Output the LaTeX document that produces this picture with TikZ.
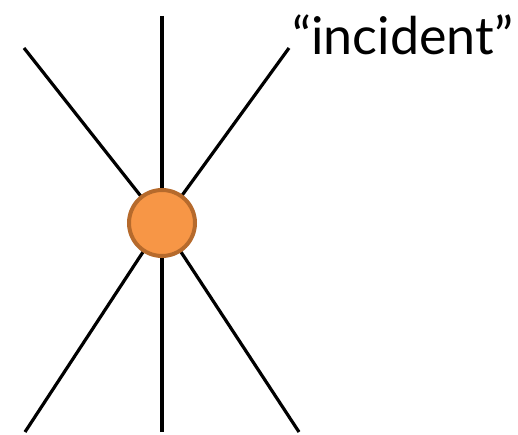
\documentclass[tikz,border=0pt]{standalone}
\usepackage{fontspec}
\setmainfont{Lato}
\usetikzlibrary{calc,backgrounds}

\definecolor{hubfill}{HTML}{F79646}
\definecolor{hubedge}{HTML}{B66A2C}

\tikzset{
    edgeline/.style={line width=3.2pt, black},
    hubnode/.style={circle, fill=hubfill, draw=hubedge, line width=4pt, minimum size=66pt, inner sep=0pt},
    labeltext/.style={anchor=base west, inner sep=0pt, font=\fontsize{52}{58}\selectfont}
}

\begin{document}
\begin{tikzpicture}[x=1pt, y=-1pt]
    \useasboundingbox (0,0) rectangle (518,435);

    % --- Középső csúcs (hub) ---
    \node[hubnode] (hub) at (162,223) {};

    % --- Élek végpontjai ---
    \coordinate (tl) at (24,48);
    \coordinate (tm) at (162,16);
    \coordinate (tr) at (289,48);
    \coordinate (bl) at (25,432);
    \coordinate (bm) at (162,432);
    \coordinate (br) at (299,432);

    % --- Élek (a csúcs mögött) ---
    \begin{scope}[on background layer]
        \foreach \e in {tl,tm,tr,bl,bm,br}
            \draw[edgeline] (\e) -- (hub.center);
    \end{scope}

    % --- Felirat ---
    \node[labeltext] (lbl) at (292,55) {“incident”};
\end{tikzpicture}
\end{document}
